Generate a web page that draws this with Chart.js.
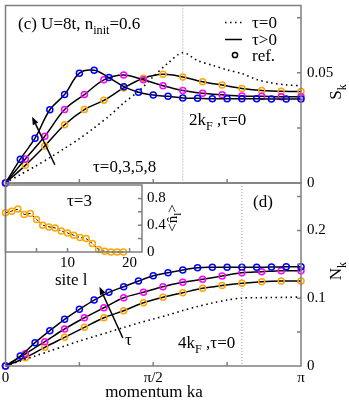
<!DOCTYPE html>
<html>
<head>
<meta charset="utf-8">
<script src="https://cdn.jsdelivr.net/npm/chart.js@4.4.1/dist/chart.umd.min.js"></script>
<style>
  html, body { margin: 0; padding: 0; background: #fff; }
  #wrap { position: relative; width: 349px; height: 400px; overflow: hidden; }
  #wrap canvas { position: absolute; left: 0; top: 0; }
</style>
</head>
<body>
<div id="wrap">
  <canvas id="nkChart" width="349" height="400"></canvas>
  <canvas id="skChart" width="349" height="400"></canvas>
  <canvas id="insetChart" width="349" height="400"></canvas>
</div>
<script>
const FONT = "'Liberation Serif', 'Times New Roman', serif";
Chart.defaults.font.family = FONT;
Chart.defaults.color = '#000';
Chart.defaults.animation = false;

// momentum ka, in units of pi
const kFine = [0, 0.05, 0.1, 0.15, 0.2, 0.25, 0.3, 0.35, 0.4, 0.45, 0.5, 0.55, 0.6, 0.65, 0.7, 0.75, 0.8, 0.85, 0.9, 0.95, 1];
const kCoarse = [0, 0.067, 0.133, 0.2, 0.267, 0.333, 0.4, 0.467, 0.533, 0.6, 0.667, 0.733, 0.8, 0.867, 0.933, 1];

// panel (c): S_k
const skTau0 = [0, 0.0038, 0.0075, 0.0115, 0.0157, 0.0201, 0.0250, 0.0303, 0.0363, 0.0416, 0.0482, 0.0544, 0.0591, 0.0555, 0.0534, 0.0513, 0.0496, 0.0469, 0.0454, 0.0445, 0.0441];
const skTau8 = [0, 0.0108, 0.0203, 0.0332, 0.0401, 0.0498, 0.0511, 0.0478, 0.0437, 0.0412, 0.0399, 0.0393, 0.0386, 0.0384, 0.0382, 0.0382, 0.0382, 0.0382, 0.0381, 0.0381, 0.0381];
const skTau5 = [0, 0.0109, 0.0212, 0.0333, 0.0401, 0.0468, 0.0490, 0.0468, 0.0441, 0.0419, 0.0407, 0.0400, 0.0394, 0.0393, 0.0391, 0.0391];
const skTau3 = [0, 0.0080, 0.0168, 0.0264, 0.0333, 0.0375, 0.0431, 0.0475, 0.0493, 0.0481, 0.0459, 0.0444, 0.0429, 0.0419, 0.0416, 0.0415];

// panel (d): N_k
const nkTau0 = [0, 0.0074, 0.0147, 0.0221, 0.0295, 0.0369, 0.0435, 0.0501, 0.0568, 0.0634, 0.0693, 0.0752, 0.0819, 0.0878, 0.0929, 0.0973, 0.1003, 0.1007, 0.1010, 0.1013, 0.1018];
const nkTau8 = [0, 0.0147, 0.0344, 0.0521, 0.0689, 0.0836, 0.0973, 0.1087, 0.1170, 0.1254, 0.1332, 0.1376, 0.1416, 0.1450, 0.1456, 0.1458, 0.1458, 0.1458, 0.1460, 0.1463, 0.1465];
const nkTau5 = [0, 0.0180, 0.0358, 0.0546, 0.0712, 0.0860, 0.1007, 0.1087, 0.1170, 0.1234, 0.1279, 0.1327, 0.1376, 0.1391, 0.1406, 0.1406];
const nkTau3 = [0, 0.0122, 0.0276, 0.0423, 0.0571, 0.0712, 0.0816, 0.0934, 0.1013, 0.1081, 0.1146, 0.1187, 0.1220, 0.1243, 0.1254, 0.1254];

// inset: <n_l> at tau=3
const sites = [0, 1, 2, 3, 4, 5, 6, 7, 8, 9, 10, 11, 12, 13, 14, 15, 16, 17, 18, 19];
const occTau3 = [0.585, 0.61, 0.64, 0.56, 0.576, 0.486, 0.40, 0.375, 0.36, 0.315, 0.285, 0.25, 0.216, 0.20, 0.126, 0.036, 0.01, 0, 0, 0];

// tick labels
const kTickVals = [0, 0.5, 1];
const kTickText = ['0', 'π/2', 'π'];
const skTickVals = [0, 0.05];
const skTickText = ['0', '0.05'];
const nkTickVals = [0, 0.1, 0.2];
const nkTickText = ['0', '0.1', '0.2'];
const siteTickVals = [10, 20];
const siteTickText = ['10', '20'];
const occTickVals = [0, 0.4, 0.8];
const occTickText = ['0', '0.4', '0.8'];

// 2k_F and 4k_F (folded) markers, arrows [tail, head]
const twoKF = 0.6;
const fourKF = 0.8;
const arrowC = [[0.167, 0.0083], [0.090, 0.0301]];
const arrowD = [[0.397, 0.0413], [0.318, 0.117]];

const BLUE = '#0000ff', MAGENTA = '#ff00ff', ORANGE = '#ffa500';
const FRAME = '#7f7f7f';

function pick(vals, text) {
  return v => {
    const i = vals.findIndex(t => Math.abs(t - v) < 1e-6);
    return i < 0 ? '' : text[i];
  };
}

function pts(xs, ys) { return xs.map((x, i) => ({ x, y: ys[i] })); }

function refSeries(xs, ys, color) {
  return {
    data: pts(xs, ys), borderColor: '#000', borderWidth: 1.5, tension: 0.35,
    pointRadius: 3, pointBorderWidth: 1.5, pointBorderColor: color,
    pointBackgroundColor: 'rgba(0,0,0,0)', clip: false
  };
}

function tau0Series(xs, ys) {
  return {
    data: pts(xs, ys), borderColor: '#000', borderWidth: 1.6, borderDash: [1.5, 3.5],
    tension: 0.3, pointRadius: 0, clip: false
  };
}

function rich(ctx, parts, x, y, size, align) {
  const sub = size * 0.72;
  let w = 0;
  parts.forEach(p => { ctx.font = (p[1] ? sub : size) + 'px ' + FONT; w += ctx.measureText(p[0]).width; });
  let cx = align === 'center' ? x - w / 2 : x;
  ctx.textAlign = 'left';
  ctx.textBaseline = 'alphabetic';
  parts.forEach(p => {
    ctx.font = (p[1] ? sub : size) + 'px ' + FONT;
    ctx.fillText(p[0], cx, p[1] ? y + size * 0.3 : y);
    cx += ctx.measureText(p[0]).width;
  });
}

function rotated(ctx, parts, x, y, size) {
  ctx.save();
  ctx.translate(x, y);
  ctx.rotate(-Math.PI / 2);
  rich(ctx, parts, 0, size * 0.33, size, 'center');
  ctx.restore();
}

function frame(chart, xTicks, len) {
  const { ctx, chartArea: a, scales } = chart;
  ctx.save();
  ctx.strokeStyle = FRAME;
  ctx.lineWidth = 1.5;
  ctx.strokeRect(a.left, a.top, a.right - a.left, a.bottom - a.top);
  ctx.beginPath();
  xTicks.forEach(v => {
    const px = scales.x.getPixelForValue(v);
    ctx.moveTo(px, a.bottom); ctx.lineTo(px, a.bottom - len);
  });
  scales.y.ticks.forEach(t => {
    if (t.value <= scales.y.min || t.value >= scales.y.max) return;
    const py = scales.y.getPixelForValue(t.value);
    ctx.moveTo(a.right, py); ctx.lineTo(a.right - len, py);
  });
  ctx.stroke();
  ctx.restore();
}

function vline(chart, v) {
  const { ctx, chartArea: a, scales } = chart;
  const px = scales.x.getPixelForValue(v);
  ctx.save();
  ctx.strokeStyle = '#999';
  ctx.lineWidth = 1;
  ctx.setLineDash([1, 2]);
  ctx.beginPath(); ctx.moveTo(px, a.top); ctx.lineTo(px, a.bottom); ctx.stroke();
  ctx.restore();
}

function arrow(chart, ar) {
  const { ctx, scales: { x, y } } = chart;
  const x1 = x.getPixelForValue(ar[0][0]), y1 = y.getPixelForValue(ar[0][1]);
  const x2 = x.getPixelForValue(ar[1][0]), y2 = y.getPixelForValue(ar[1][1]);
  const ang = Math.atan2(y2 - y1, x2 - x1);
  const L = 8, W = 3;
  ctx.save();
  ctx.strokeStyle = '#000'; ctx.fillStyle = '#000'; ctx.lineWidth = 1.5;
  ctx.beginPath(); ctx.moveTo(x1, y1);
  ctx.lineTo(x2 - L * Math.cos(ang), y2 - L * Math.sin(ang)); ctx.stroke();
  ctx.beginPath();
  ctx.moveTo(x2, y2);
  ctx.lineTo(x2 - L * Math.cos(ang) + W * Math.sin(ang), y2 - L * Math.sin(ang) - W * Math.cos(ang));
  ctx.lineTo(x2 - L * Math.cos(ang) - W * Math.sin(ang), y2 - L * Math.sin(ang) + W * Math.cos(ang));
  ctx.closePath(); ctx.fill();
  ctx.restore();
}

function drawTop(chart) {
  const ctx = chart.ctx;
  vline(chart, twoKF);
  frame(chart, [0.25, 0.5, 0.75], 4);
  arrow(chart, arrowC);
  ctx.save();
  ctx.fillStyle = '#000';
  rich(ctx, [['(c) U=8t, n'], ['init', 1], ['=0.6']], 18, 29, 17);
  rich(ctx, [['τ=0,3,5,8']], 93, 172, 17);
  rich(ctx, [['2k'], ['F', 1], [' ,τ=0']], 189, 125, 17);
  // legend
  ctx.strokeStyle = '#000'; ctx.lineWidth = 1.5;
  ctx.setLineDash([1.5, 3.5]);
  ctx.beginPath(); ctx.moveTo(225, 22.5); ctx.lineTo(242, 22.5); ctx.stroke();
  ctx.setLineDash([]);
  ctx.beginPath(); ctx.moveTo(225, 39.5); ctx.lineTo(242, 39.5); ctx.stroke();
  ctx.beginPath(); ctx.arc(235, 55, 2.6, 0, Math.PI * 2); ctx.stroke();
  rich(ctx, [['τ=0']], 252, 28, 17);
  rich(ctx, [['τ>0']], 252, 44.5, 17);
  rich(ctx, [['ref.']], 252, 60.5, 17);
  rotated(ctx, [['S'], ['k', 1]], 335, 92, 17);
  ctx.restore();
}

function drawBottom(chart) {
  const ctx = chart.ctx;
  vline(chart, fourKF);
  frame(chart, [0.25, 0.5, 0.75], 4);
  arrow(chart, arrowD);
  ctx.save();
  ctx.fillStyle = '#000';
  rich(ctx, [['(d)']], 253, 207, 17);
  rich(ctx, [['4k'], ['F', 1], [' ,τ=0']], 178, 348, 17);
  rich(ctx, [['τ']], 125, 345, 17);
  rich(ctx, [['momentum ka']], 154, 397, 17, 'center');
  rotated(ctx, [['N'], ['k', 1]], 335, 271, 17);
  ctx.restore();
}

function drawInset(chart) {
  const ctx = chart.ctx;
  frame(chart, [5, 10, 15, 20], 4);
  ctx.save();
  ctx.fillStyle = '#000';
  rich(ctx, [['τ=3']], 67, 206, 17);
  rich(ctx, [['site l']], 55, 285, 17);
  rotated(ctx, [['<n\u0302'], ['l', 1], ['>']], 172, 218, 15);
  ctx.restore();
}

function rightAxis(min, max, step, vals, text, width, pad) {
  return {
    position: 'right', min, max,
    grid: { display: false, drawTicks: false }, border: { display: false },
    ticks: { stepSize: step, includeBounds: false, autoSkip: false, padding: pad, font: { size: 15 }, color: '#000', callback: pick(vals, text) },
    afterFit: s => { s.width = width; s.paddingTop = 0; s.paddingBottom = 0; }
  };
}

function bottomAxis(min, max, step, vals, text, height, pad) {
  return {
    type: 'linear', position: 'bottom', min, max,
    grid: { display: false, drawTicks: false }, border: { display: false },
    ticks: { stepSize: step, includeBounds: false, autoSkip: false, maxRotation: 0, padding: pad, font: { size: 15 }, color: '#000', callback: pick(vals, text) },
    afterFit: s => { s.height = height; s.paddingLeft = 0; s.paddingRight = 0; }
  };
}

const baseOpts = {
  responsive: false, devicePixelRatio: 1, animation: false, events: [],
  plugins: { legend: { display: false }, tooltip: { enabled: false } }
};

new Chart(document.getElementById('nkChart'), {
  type: 'line',
  data: { datasets: [
    refSeries(kFine, nkTau8, BLUE),
    refSeries(kCoarse, nkTau5, MAGENTA),
    refSeries(kCoarse, nkTau3, ORANGE),
    tau0Series(kFine, nkTau0)
  ] },
  options: Object.assign({}, baseOpts, {
    layout: { padding: { left: 5, top: 183, right: 0, bottom: 0 } },
    scales: {
      x: bottomAxis(0, 1, 0.25, kTickVals, kTickText, 34, 3),
      y: rightAxis(0, 0.27, 0.05, nkTickVals, nkTickText, 48, 6)
    }
  }),
  plugins: [{ id: 'decoD', afterDraw: drawBottom }]
});

new Chart(document.getElementById('skChart'), {
  type: 'line',
  data: { datasets: [
    refSeries(kFine, skTau8, BLUE),
    refSeries(kCoarse, skTau5, MAGENTA),
    refSeries(kCoarse, skTau3, ORANGE),
    tau0Series(kFine, skTau0)
  ] },
  options: Object.assign({}, baseOpts, {
    layout: { padding: { left: 5, top: 1, right: 0, bottom: 217 } },
    scales: {
      x: { type: 'linear', display: false, min: 0, max: 1 },
      y: rightAxis(0, 0.0805, 0.025, skTickVals, skTickText, 48, 6)
    }
  }),
  plugins: [{ id: 'decoC', afterDraw: drawTop }]
});

new Chart(document.getElementById('insetChart'), {
  type: 'line',
  data: { datasets: [{
    data: pts(sites, occTau3), borderColor: '#000', borderWidth: 1, borderDash: [3, 2],
    pointRadius: 3, pointBorderWidth: 1.5, pointBorderColor: ORANGE,
    pointBackgroundColor: 'rgba(0,0,0,0)', tension: 0, clip: false
  }] },
  options: Object.assign({}, baseOpts, {
    layout: { padding: { left: 5, top: 185, right: 177, bottom: 132 } },
    scales: {
      x: bottomAxis(0, 22, 5, siteTickVals, siteTickText, 16, 2),
      y: rightAxis(0, 1, 0.2, occTickVals, occTickText, 30, 5)
    }
  }),
  plugins: [{ id: 'decoInset', afterDraw: drawInset }]
});
</script>
</body>
</html>
